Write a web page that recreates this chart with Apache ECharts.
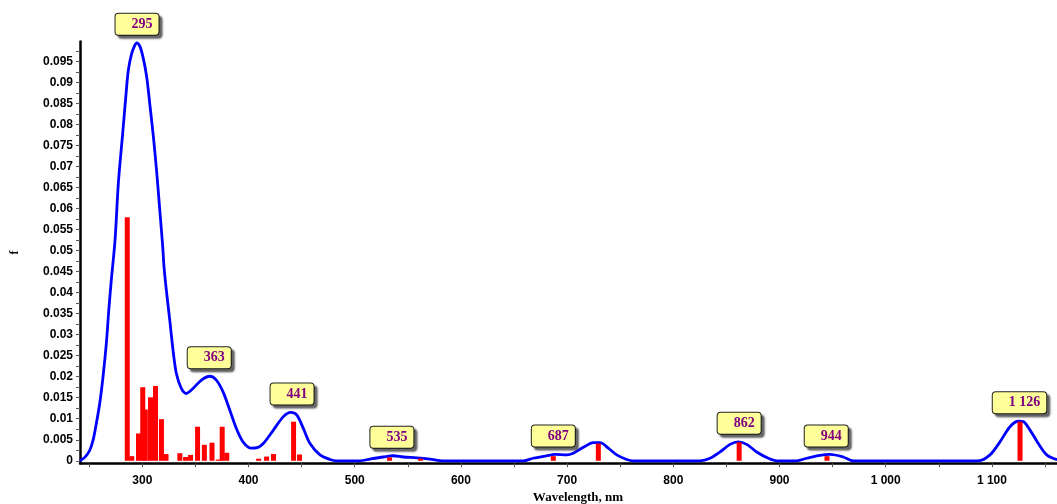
<!DOCTYPE html>
<html>
<head>
<meta charset="utf-8">
<script src="https://cdn.jsdelivr.net/npm/echarts@6/dist/echarts.min.js"></script>
<style>
  html, body { margin: 0; padding: 0; background: #fff; }
  #spectre { width: 1057px; height: 504px; }
</style>
</head>
<body>
<div id="spectre"></div>
<script>
// envelope curve (wavelength nm, f)
var curveNm = [241.3, 245.8, 250.5, 253.6, 256.7, 259.9, 263, 266.1, 268.4, 270.8, 274.3, 277.4, 281.5, 284.7, 286.8, 290, 293.1, 294.7, 297.8, 300.9, 304.1, 307.3, 310.4, 313.6, 316.7, 319.2, 320.4, 322.6, 325.8, 328.9, 332, 336.7, 341.4, 347.7, 355.6, 363.5, 369.7, 376, 382.3, 388.5, 394.8, 402.6, 408.9, 413.9, 423.4, 432.8, 439.7, 445.4, 451.6, 457.9, 467.3, 476.7, 483,
  505, 514.4, 527, 536.3, 545.8, 558.4, 571, 583.4,
  658.8, 668, 680.8, 688.6, 699.6, 705.8, 715.3, 724.7, 731, 738.8, 746.7, 756.1, 762.3,
  825.2, 834.6, 844, 853.4, 861.2, 869.1, 878.5, 889.5, 897.4,
  916.2, 925.6, 938.1, 947.5, 960, 969.5,
  1087.2, 1098.2, 1107.6, 1117, 1124.9, 1129.6, 1135.9, 1143.7, 1151.6, 1159.4, 1161.3];
var curveF = [0, 0.0008, 0.0025, 0.0049, 0.0089, 0.0137, 0.020, 0.0279, 0.0358, 0.043, 0.0525, 0.066, 0.0779, 0.0874, 0.0929, 0.0969, 0.0989, 0.0994, 0.0985, 0.0957, 0.0913, 0.0842, 0.0771, 0.0684, 0.0588, 0.0509, 0.0462, 0.0406, 0.0335, 0.0263, 0.0208, 0.0172, 0.016, 0.0172, 0.0192, 0.0201, 0.0192, 0.0164, 0.0121, 0.0077, 0.0045, 0.003, 0.0032, 0.0041, 0.0073, 0.0105, 0.0115, 0.0109, 0.0077, 0.0041, 0.0014, 0.0003, 0,
  0, 0.0004, 0.0009, 0.0012, 0.0009, 0.0007, 0.0004, 0,
  0, 0.0006, 0.0012, 0.0015, 0.0014, 0.0018, 0.0032, 0.0043, 0.0043, 0.003, 0.0014, 0.0003, 0,
  0, 0.0006, 0.0021, 0.0039, 0.0045, 0.0039, 0.0021, 0.0006, 0,
  0, 0.0006, 0.0013, 0.0015, 0.0009, 0,
  0, 0.0014, 0.0045, 0.0081, 0.0094, 0.0093, 0.0073, 0.0041, 0.0014, 0.0004, 0.0003];

// oscillator strengths (sticks)
var stickNm = [285.8, 290, 296.4, 300.4, 302.8, 307.7, 312.4, 318, 322.3, 335.3, 340.7, 345.4, 352, 358.4, 365.6, 371.5, 375.2, 379.5, 409.5, 417, 423.5, 442.4, 448, 532.8, 562, 687, 729.4, 862, 944.7, 1126.5];
var stickF = [0.0579, 0.0011, 0.0065, 0.0175, 0.0122, 0.0151, 0.0178, 0.0099, 0.0016, 0.0018, 0.0009, 0.0014, 0.0081, 0.0038, 0.0043, 0.0003, 0.0081, 0.0019, 0.0005, 0.001, 0.0016, 0.0093, 0.0015, 0.0008, 0.0005, 0.0011, 0.0041, 0.0044, 0.0011, 0.0093];

// peak callouts
var peakNm = [295, 363, 441, 535, 687, 862, 944, 1126];
var peakF = [0.0994, 0.0201, 0.0115, 0.0012, 0.0015, 0.0045, 0.0015, 0.0094];
var peakText = ['295', '363', '441', '535', '687', '862', '944', '1 126'];

// axis ticks
var xLabels = [300, 400, 500, 600, 700, 800, 900, 1000, 1100];
var xTicks = [250, 300, 350, 400, 450, 500, 550, 600, 650, 700, 750, 800, 850, 900, 950, 1000, 1050, 1100, 1150];
var yLabels = [0, 0.005, 0.01, 0.015, 0.02, 0.025, 0.03, 0.035, 0.04, 0.045, 0.05, 0.055, 0.06, 0.065, 0.07, 0.075, 0.08, 0.085, 0.09, 0.095];
var yTicks = [0, 0.0025, 0.005, 0.0075, 0.01, 0.0125, 0.015, 0.0175, 0.02, 0.0225, 0.025, 0.0275, 0.03, 0.0325, 0.035, 0.0375, 0.04, 0.0425, 0.045, 0.0475, 0.05, 0.0525, 0.055, 0.0575, 0.06, 0.0625, 0.065, 0.0675, 0.07, 0.0725, 0.075, 0.0775, 0.08, 0.0825, 0.085, 0.0875, 0.09, 0.0925, 0.095, 0.0975];

function zip(a, b) {
  var out = [];
  for (var i = 0; i < a.length; i++) out.push([a[i], b[i]]);
  return out;
}

var peakData = [];
for (var i = 0; i < peakNm.length; i++) {
  peakData.push({ value: [peakNm[i], peakF[i]], name: peakText[i] });
}

var spectreOption = {
  animation: false,
  grid: {
    left: 80,
    right: 0,
    top: 41.6,
    bottom: 40.7,
    outerBoundsMode: 'none',
    containLabel: false
  },
  xAxis: {
    type: 'value',
    min: 241.3,
    max: 1161.3,
    name: 'Wavelength, nm',
    nameLocation: 'middle',
    nameGap: 27,
    nameTextStyle: {
      fontFamily: 'Liberation Serif',
      fontWeight: 'bold',
      fontSize: 13,
      color: '#000',
      padding: [0, 0, 0, 19]
    },
    axisLine: { onZero: false, lineStyle: { color: '#000', width: 2.5 } },
    axisTick: { customValues: xTicks, length: 4, lineStyle: { color: '#555' } },
    axisLabel: {
      customValues: xLabels,
      margin: 11,
      fontFamily: 'Liberation Sans',
      fontWeight: 'bold',
      fontSize: 12,
      color: '#000',
      formatter: function (v) {
        return String(v).replace(/\B(?=(\d{3})+(?!\d))/g, ' ');
      }
    },
    splitLine: { show: false }
  },
  yAxis: {
    type: 'value',
    min: -0.0006,
    max: 0.0997,
    name: 'f',
    nameLocation: 'middle',
    nameGap: 59,
    nameTextStyle: {
      fontFamily: 'Liberation Serif',
      fontWeight: 'bold',
      fontSize: 12,
      color: '#000'
    },
    axisLine: { show: true, onZero: false, lineStyle: { color: '#000', width: 2.5 } },
    axisTick: { show: true, customValues: yTicks, length: 4, lineStyle: { color: '#555' } },
    axisLabel: {
      customValues: yLabels,
      margin: 7,
      fontFamily: 'Liberation Sans',
      fontWeight: 'bold',
      fontSize: 12,
      color: '#000',
      formatter: function (v) { return String(+v.toFixed(4)); }
    },
    splitLine: { show: false }
  },
  series: [
    {
      type: 'line',
      data: zip(curveNm, curveF),
      symbol: 'none',
      smooth: 0.3,
      lineStyle: { color: '#0000ff', width: 2.8 },
      z: 2
    },
    {
      type: 'bar',
      data: zip(stickNm, stickF),
      barWidth: 5,
      itemStyle: { color: '#ff0000' },
      z: 3
    },
    {
      type: 'scatter',
      data: peakData,
      symbolSize: 0,
      itemStyle: { opacity: 1 },
      z: 5,
      label: {
        show: true,
        position: 'top',
        distance: 8,
        formatter: '{b}',
        fontFamily: 'Liberation Serif',
        fontWeight: 'bold',
        fontSize: 14,
        lineHeight: 15,
        color: '#800080',
        opacity: 1,
        backgroundColor: '#ffff99',
        borderColor: '#222',
        borderWidth: 1,
        borderRadius: 3,
        padding: [3, 6, 3, 16],
        shadowColor: 'rgba(0,0,0,0.55)',
        shadowBlur: 2,
        shadowOffsetX: 3,
        shadowOffsetY: 3
      }
    }
  ]
};

var spectreDom = document.getElementById('spectre');
var spectreChart = echarts.init(spectreDom);
spectreOption && spectreChart.setOption(spectreOption);
</script>
</body>
</html>
